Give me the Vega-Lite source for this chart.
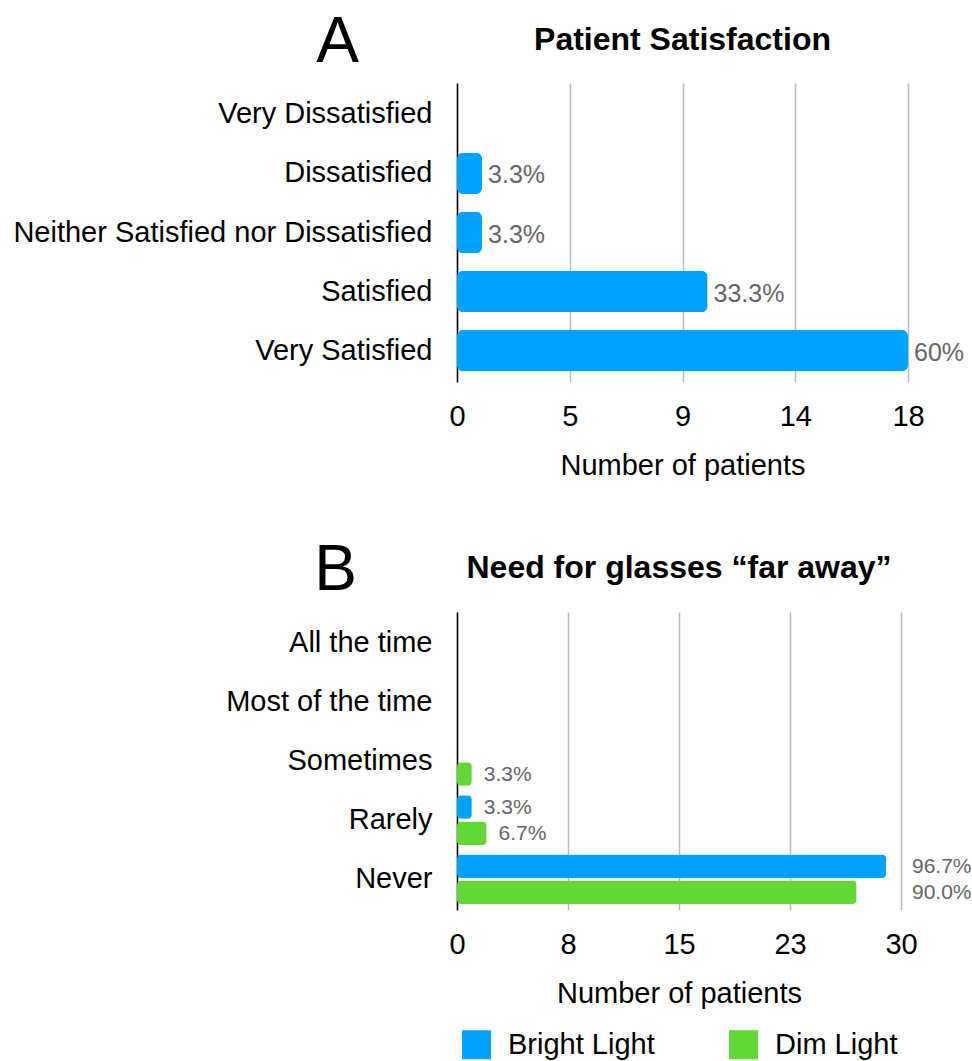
{
  "$schema": "https://vega.github.io/schema/vega-lite/v6.json",
  "padding": {"left": 12, "top": 10, "right": 0, "bottom": 0},
  "background": "white",
  "spacing": 58,
  "config": {
    "font": "Liberation Sans",
    "view": {"stroke": null},
    "axis": {"labelColor": "black", "titleColor": "black", "labelFont": "Liberation Sans", "titleFont": "Liberation Sans"},
    "legend": {"labelFont": "Liberation Sans"}
  },
  "vconcat": [
    {
      "width": 451,
      "height": 299,
      "title": {"text": "Patient Satisfaction", "fontSize": 32, "fontWeight": "bold", "frame": "group", "anchor": "middle", "baseline": "alphabetic", "offset": -72, "color": "black"},
      "data": {"values": [
        {"response": "Very Dissatisfied", "count": 0, "pct": ""},
        {"response": "Dissatisfied", "count": 1, "pct": "3.3%"},
        {"response": "Neither Satisfied nor Dissatisfied", "count": 1, "pct": "3.3%"},
        {"response": "Satisfied", "count": 10, "pct": "33.3%"},
        {"response": "Very Satisfied", "count": 18, "pct": "60%"}
      ]},
      "encoding": {
        "y": {
          "field": "response", "type": "nominal",
          "scale": {"domain": ["Very Dissatisfied", "Dissatisfied", "Neither Satisfied nor Dissatisfied", "Satisfied", "Very Satisfied"], "paddingInner": 0.3, "paddingOuter": 0.18},
          "axis": {"title": "A", "titleAngle": 0, "titleFontSize": 64, "titleFontWeight": "normal", "titleX": -120, "titleY": -22, "titleAlign": "center", "titleBaseline": "alphabetic", "labelFontSize": 29, "ticks": false, "labelPadding": 25, "domainColor": "black", "domainWidth": 1.5, "grid": false, "labelLimit": 600}
        }
      },
      "layer": [
        {
          "transform": [{"filter": "datum.count > 0"}],
          "mark": {"type": "bar", "color": "#00A2FF", "cornerRadius": 6},
          "encoding": {
            "x": {"field": "count", "type": "quantitative", "scale": {"domain": [0, 18], "nice": false},
              "axis": {"values": [0, 4.5, 9, 13.5, 18], "format": ".0f", "grid": true, "gridColor": "#bbbbbb", "gridWidth": 1.5, "ticks": false, "domain": false, "labelFlush": false, "labelFontSize": 29, "labelPadding": 20, "title": "Number of patients", "titleFontSize": 29, "titleFontWeight": "normal", "titlePadding": 20}}
          }
        },
        {
          "mark": {"type": "text", "align": "left", "baseline": "middle", "dx": 6, "dy": 2, "fontSize": 25, "color": "#666666"},
          "encoding": {
            "x": {"field": "count", "type": "quantitative"},
            "text": {"field": "pct"}
          }
        }
      ]
    },
    {
      "width": 444,
      "height": 298,
      "title": {"text": "Need for glasses “far away”", "fontSize": 32, "fontWeight": "bold", "frame": "group", "anchor": "middle", "baseline": "alphabetic", "offset": -72, "color": "black"},
      "data": {"values": [
        {"response": "Rarely", "light": "Bright Light", "count": 1, "pct": "3.3%"},
        {"response": "Never", "light": "Bright Light", "count": 29, "pct": "96.7%"},
        {"response": "Sometimes", "light": "Dim Light", "count": 1, "pct": "3.3%"},
        {"response": "Rarely", "light": "Dim Light", "count": 2, "pct": "6.7%"},
        {"response": "Never", "light": "Dim Light", "count": 27, "pct": "90.0%"}
      ]},
      "encoding": {
        "y": {
          "field": "response", "type": "nominal",
          "scale": {"domain": ["All the time", "Most of the time", "Sometimes", "Rarely", "Never"], "paddingInner": 0.16, "paddingOuter": 0.1},
          "axis": {"title": "B", "titleAngle": 0, "titleFontSize": 64, "titleFontWeight": "normal", "titleX": -122, "titleY": -23, "titleAlign": "center", "titleBaseline": "alphabetic", "labelFontSize": 29, "ticks": false, "labelPadding": 25, "domainColor": "black", "domainWidth": 1.5, "grid": false, "labelLimit": 600}
        },
        "yOffset": {"field": "light", "type": "nominal", "scale": {"domain": ["Bright Light", "Dim Light"], "paddingInner": 0.1}}
      },
      "layer": [
        {
          "mark": {"type": "bar", "cornerRadius": 4},
          "encoding": {
            "x": {"field": "count", "type": "quantitative", "scale": {"domain": [0, 30], "nice": false},
              "axis": {"values": [0, 7.5, 15, 22.5, 30], "format": ".0f", "grid": true, "gridColor": "#bbbbbb", "gridWidth": 1.5, "ticks": false, "domain": false, "labelFlush": false, "labelFontSize": 29, "labelPadding": 20, "title": "Number of patients", "titleFontSize": 29, "titleFontWeight": "normal", "titlePadding": 20}},
            "color": {"field": "light", "type": "nominal", "scale": {"domain": ["Bright Light", "Dim Light"], "range": ["#00A2FF", "#61D836"]},
              "legend": {"title": null, "orient": "bottom", "direction": "horizontal", "symbolType": "square", "symbolSize": 841, "symbolStrokeWidth": 0, "labelFontSize": 29, "labelColor": "black", "labelOffset": 17, "columnPadding": 74, "offset": 17, "padding": 5}}
          }
        },
        {
          "transform": [{"filter": "datum.count < 20"}],
          "mark": {"type": "text", "align": "left", "baseline": "middle", "dx": 12, "dy": 1, "fontSize": 21, "color": "#666666"},
          "encoding": {
            "x": {"field": "count", "type": "quantitative"},
            "text": {"field": "pct"}
          }
        },
        {
          "transform": [{"filter": "datum.count >= 20"}],
          "mark": {"type": "text", "align": "left", "baseline": "middle", "dx": 11, "dy": 1, "fontSize": 21, "color": "#666666"},
          "encoding": {
            "x": {"datum": 30, "type": "quantitative"},
            "text": {"field": "pct"}
          }
        }
      ]
    }
  ]
}
